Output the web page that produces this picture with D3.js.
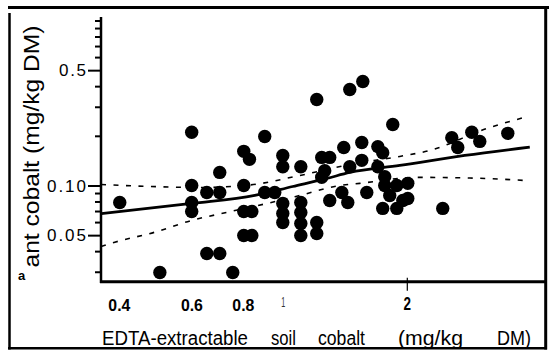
<!DOCTYPE html>
<html><head><meta charset="utf-8">
<script src="https://cdn.jsdelivr.net/npm/d3@7"></script>
<style>body{margin:0;background:#fff}svg{display:block}</style>
</head><body><svg id="c" width="554" height="351"></svg>
<script>
// EDTA-extractable soil cobalt (x) and plant cobalt (y), mg/kg DM
const soilCo = [0.402,0.503,0.601,0.601,0.601,0.601,0.654,0.703,0.703,0.654,0.703,0.756,0.804,0.83,0.804,0.804,0.841,0.804,0.841,0.904,0.904,0.956,1.0,1.0,1.0,1.0,1.0,1.106,1.106,1.106,1.106,1.106,1.209,1.209,1.209,1.243,1.30,1.264,1.243,1.406,1.555,1.454,1.555,1.701,1.748,1.701,1.30,1.391,1.438,1.599,1.454,1.564,1.849,1.768,1.891,1.818,1.748,1.891,1.956,2.011,2.011,2.445,2.572,2.659,2.876,3.007,3.517,1.768];
const plantCo = [0.0789,0.0297,0.210,0.100,0.0789,0.0696,0.0907,0.0907,0.120,0.0387,0.0387,0.0297,0.161,0.144,0.100,0.0696,0.0696,0.0498,0.0498,0.198,0.0907,0.0907,0.152,0.130,0.0778,0.0677,0.0597,0.130,0.0789,0.0686,0.0588,0.0498,0.332,0.0597,0.0512,0.148,0.148,0.123,0.112,0.170,0.182,0.130,0.142,0.172,0.158,0.130,0.0811,0.0907,0.0789,0.0907,0.382,0.427,0.234,0.100,0.100,0.0870,0.0726,0.0726,0.0811,0.103,0.0834,0.0726,0.195,0.170,0.210,0.185,0.207,0.113];

// fitted curve and confidence band
const fitX = [0.362,0.601,0.855,1.057,1.279,1.454,1.923,2.765,3.977];
const fitY = [0.0674,0.0778,0.0870,0.0986,0.1103,0.1199,0.1322,0.152,0.1707];
const upperX = [0.362,0.476,0.629,0.832,1.10,1.454,1.923,2.274,3.127,3.932];
const upperY = [0.1014,0.0986,0.0972,0.1007,0.115,0.134,0.150,0.163,0.2216,0.262];
const lowerX = [0.362,0.391,0.489,0.601,0.735,0.915,1.10,1.375,1.538,2.114,2.844,3.932];
const lowerY = [0.0427,0.0453,0.0521,0.0614,0.0689,0.0778,0.0870,0.100,0.103,0.112,0.111,0.107];

// axis ticks
const yMajorTicks = [0.05,0.1,0.5];
const yTickLabels = ["0.05","0.10","0.5"];
const yMinorTicks = [0.03,0.04,0.06,0.07,0.08,0.09,0.2,0.3,0.4,0.6,0.7,0.8,0.9,1.0];
const xTicks = [0.4,0.6,0.8,1,2];
const xTickLabels = ["0.4","0.6","0.8","1","2"];

const xTitleParts = ["EDTA-extractable","soil","cobalt","(mg/kg","DM)"];
const yTitle = "ant cobalt (mg/kg DM)";

const svg = d3.select("#c");
const x = d3.scaleLog().domain([0.362,4.33]).range([101,545]);
const y = d3.scaleLog().domain([0.026,1.05]).range([282,17]);
const FONT = "'Liberation Sans', Arial, sans-serif";
const NARROW = "'Liberation Sans Narrow', 'Liberation Sans', Arial, sans-serif";

// outer frame
const frame = svg.append("g").attr("stroke","#000").attr("fill","none");
frame.append("line").attr("x1",8).attr("x2",549).attr("y1",7.5).attr("y2",7.5).attr("stroke-width",3);
frame.append("line").attr("x1",9.5).attr("x2",9.5).attr("y1",13).attr("y2",349.5).attr("stroke-width",2.5);
frame.append("line").attr("x1",8).attr("x2",547).attr("y1",348.3).attr("y2",348.3).attr("stroke-width",2.5);
frame.append("line").attr("x1",545.7).attr("x2",545.7).attr("y1",9).attr("y2",349.5).attr("stroke-width",3);

// y axis
const yTicks = [...yMinorTicks,...yMajorTicks].sort((a,b)=>a-b);
const gy = svg.append("g").attr("transform","translate(101,0)")
  .call(d3.axisLeft(y).tickValues(yTicks).tickSize(13).tickPadding(2)
    .tickFormat(d=>{const i=yMajorTicks.indexOf(d);return i>=0?yTickLabels[i]:"";}));
gy.select(".domain").remove();
gy.selectAll(".tick line").attr("stroke","#000").attr("stroke-width",2)
  .attr("x2",d=>yMajorTicks.includes(d)?-13:-6);
gy.selectAll(".tick text").attr("font-family",FONT).attr("font-size",17).attr("fill","#000")
  .attr("x",-15).attr("dy","0.34em")
  .each(function(d){const t=d3.select(this).text(); if(t){d3.select(this).attr("textLength",t.length===3?27:39).attr("lengthAdjust","spacing");}});
svg.append("line").attr("x1",101).attr("x2",101).attr("y1",17).attr("y2",283)
  .attr("stroke","#000").attr("stroke-width",2.5);

// x axis
svg.append("line").attr("x1",100).attr("x2",546).attr("y1",281.7).attr("y2",281.7)
  .attr("stroke","#000").attr("stroke-width",3);
const gx = svg.append("g").attr("transform","translate(0,281.7)")
  .call(d3.axisBottom(x).tickValues(xTicks).tickSize(0).tickFormat((d,i)=>xTickLabels[i]));
gx.select(".domain").remove();
gx.selectAll(".tick line").remove();
gx.selectAll(".tick text").attr("fill","#000").attr("dy",null)
  .each(function(d){
    const s=d3.select(this);
    if(d===1){ s.attr("font-family",FONT).attr("font-size",14).attr("fill","#333").attr("y",25).attr("textLength",4).attr("lengthAdjust","spacingAndGlyphs"); }
    else if(d===2){ s.attr("font-family",NARROW).attr("font-size",18).attr("font-weight","bold").attr("y",28.5).attr("textLength",7.5).attr("lengthAdjust","spacingAndGlyphs"); }
    else { s.attr("font-family",NARROW).attr("font-size",17).attr("font-weight","bold").attr("y",29).attr("textLength",22).attr("lengthAdjust","spacingAndGlyphs"); }
  });
gx.selectAll(".tick").filter(d=>d===2).append("line")
  .attr("y1",-4).attr("y2",9).attr("stroke","#000").attr("stroke-width",1.2);

// confidence band (dashed)
const band = d3.line().x(d=>x(d[0])).y(d=>y(d[1])).curve(d3.curveMonotoneX);
svg.append("path").datum(upperX.map((v,i)=>[v,upperY[i]])).attr("d",band)
  .attr("fill","none").attr("stroke","#000").attr("stroke-width",1.6).attr("stroke-dasharray","5,7.5");
svg.append("path").datum(lowerX.map((v,i)=>[v,lowerY[i]])).attr("d",band)
  .attr("fill","none").attr("stroke","#000").attr("stroke-width",1.6).attr("stroke-dasharray","5,7.5");

// points
svg.append("g").selectAll("circle").data(soilCo.map((v,i)=>[v,plantCo[i]])).join("circle")
  .attr("cx",d=>x(d[0])).attr("cy",d=>y(d[1])).attr("r",6.7).attr("fill","#000");

// fitted line
svg.append("path").datum(fitX.map((v,i)=>[v,fitY[i]])).attr("d",band)
  .attr("fill","none").attr("stroke","#000").attr("stroke-width",2.8);

// y title
svg.append("text").attr("transform","translate(39,146.5) rotate(-90)")
  .attr("text-anchor","middle").attr("font-family",FONT).attr("font-size",22)
  .attr("textLength",242).attr("lengthAdjust","spacingAndGlyphs").attr("fill","#000").text(yTitle);
svg.append("text").attr("x",18).attr("y",280).attr("font-family",FONT).attr("font-weight","bold")
  .attr("font-size",13).attr("fill","#000").text("a");

// x title
const xtPos = [[102,146,20],[271,25,20],[318,47,20],[398,65,21],[497,34,20]];
xTitleParts.forEach((t,i)=>{
  const p=xtPos[i];
  svg.append("text").attr("x",p[0]).attr("y",345).attr("font-family",FONT).attr("font-size",p[2])
    .attr("textLength",p[1]).attr("lengthAdjust","spacingAndGlyphs").attr("fill","#000").text(t);
});
</script>
</body></html>
